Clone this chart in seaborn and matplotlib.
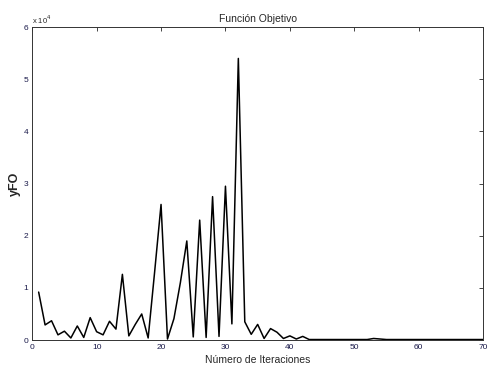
import numpy as np
import pandas as pd
import seaborn as sns
import matplotlib
matplotlib.use('Agg')
import matplotlib.pyplot as plt

# iteration numbers
iteraciones = list(range(1, 71))

# objective function value per iteration (x 1e4)
fo_first = [0.92, 0.29, 0.37, 0.10, 0.17, 0.04, 0.27, 0.05, 0.43, 0.16,
            0.10, 0.36, 0.21, 1.26, 0.08, 0.30, 0.50, 0.04, 1.30, 2.60,
            0.02, 0.41, 1.10, 1.90, 0.06, 2.30, 0.05, 2.75, 0.07, 2.95,
            0.31, 5.40, 0.35, 0.11, 0.30, 0.03, 0.22, 0.15, 0.03, 0.08,
            0.02, 0.07]
fo_tail = [0.01, 0.01, 0.01, 0.01, 0.01, 0.01, 0.01, 0.01, 0.01, 0.01,
           0.03, 0.02, 0.01, 0.01, 0.01, 0.01, 0.01, 0.01, 0.01, 0.01,
           0.01, 0.01, 0.01, 0.01, 0.01, 0.01, 0.01, 0.01]
fo = np.array(fo_first + fo_tail) * 1e4

df = pd.DataFrame({'iter': iteraciones, 'fo': fo})

sns.set_style('white')
plt.rcParams['font.family'] = ['Liberation Sans', 'DejaVu Sans']

fig = plt.figure(figsize=(4.88, 3.77), dpi=100)
ax = fig.add_axes([0.066, 0.098, 0.924, 0.83])

sns.lineplot(data=df, x='iter', y='fo', color='black', linewidth=1.1, ax=ax)

ax.set_xlim(0, 70)
ax.set_ylim(0, 6e4)
ax.set_xticks(range(0, 71, 10))
ax.set_yticks(np.arange(0, 6.1e4, 1e4))
ax.set_yticklabels([str(i) for i in range(7)])
ax.text(0.0, 1.005, r'x 10$^4$', transform=ax.transAxes, fontsize=5.5,
        ha='left', va='bottom')

ax.tick_params(direction='in', top=True, right=True, labelsize=6,
               length=3, width=0.6, labelcolor='#1a1a4a', pad=3)
for s in ax.spines.values():
    s.set_linewidth(0.7)
    s.set_color('#333333')

ax.set_title('Función Objetivo', fontsize=7.5, pad=4)
ax.set_xlabel('Número de Iteraciones', fontsize=7.5, labelpad=3)
ax.set_ylabel('yFO', fontsize=9, labelpad=2, fontweight='bold')

fig.savefig('out.png', dpi=100)
